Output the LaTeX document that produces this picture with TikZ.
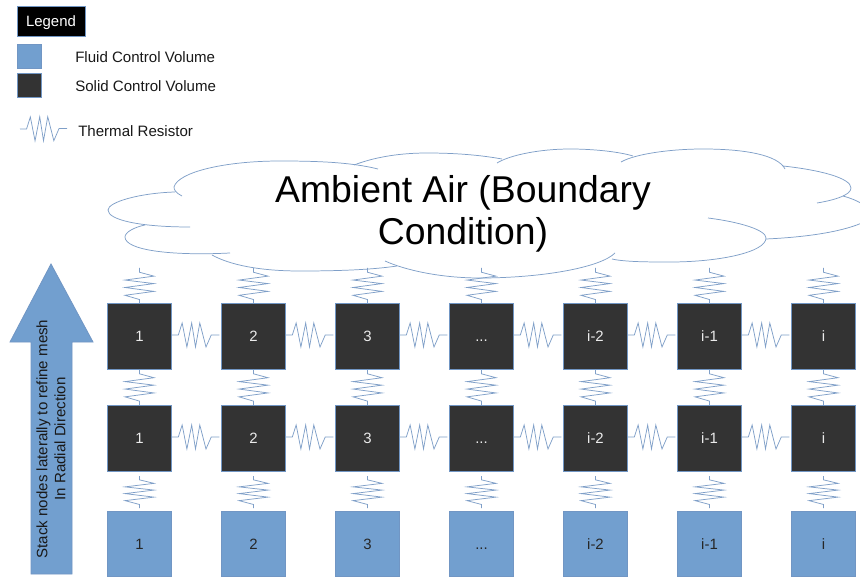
\documentclass[tikz,border=0pt]{standalone}
\usepackage{fontspec}
\setmainfont{Liberation Sans}
\usetikzlibrary{calc}
\definecolor{fluidc}{HTML}{729FCF}
\definecolor{solidc}{HTML}{333333}
\definecolor{edgec}{HTML}{7196C4}
\definecolor{resc}{HTML}{7F9FC8}
\newcommand{\threedots}{...}
\tikzset{
 res/.style={draw=resc,line width=0.55pt,line join=miter},
 cloudline/.style={draw=resc,line width=0.55pt},
 cell/.style={minimum width=47.6pt,minimum height=49pt,inner sep=0pt,draw=edgec,line width=0.6pt,text height=8pt,text depth=0pt,font=\fontsize{11.2}{13}\selectfont},
 solidcell/.style={cell,fill=solidc,text=white!92!black},
 fluidcell/.style={cell,fill=fluidc,text=black!85},
 swatch/.style={minimum width=18pt,minimum height=17.4pt,inner sep=0pt,draw=edgec,line width=0.6pt},
 lab/.style={anchor=west,inner sep=0pt,font=\fontsize{11.3}{13}\selectfont,text=black!90},
}
\newcommand{\vres}[2]{\draw[res] (#1) -- ($(#1)!.12!(#2)$) -- ($(#1)!.23!(#2)+(14.5,0)$) -- ($(#1)!.34!(#2)+(-14.5,0)$) -- ($(#1)!.44!(#2)+(14.5,0)$) -- ($(#1)!.55!(#2)+(-14.5,0)$) -- ($(#1)!.66!(#2)+(14.5,0)$) -- ($(#1)!.77!(#2)+(-14.5,0)$) -- ($(#1)!.89!(#2)$) -- (#2);}
\newcommand{\hres}[3][12]{\draw[res] (#2) -- ($(#2)!.14!(#3)$) -- ($(#2)!.22!(#3)+(0,-#1)$) -- ($(#2)!.32!(#3)+(0,#1)$) -- ($(#2)!.42!(#3)+(0,-#1)$) -- ($(#2)!.50!(#3)+(0,#1)$) -- ($(#2)!.59!(#3)+(0,-#1)$) -- ($(#2)!.72!(#3)+(0,#1)$) -- ($(#2)!.83!(#3)$) -- (#3);}
\begin{document}
\begin{tikzpicture}[x=0.75pt,y=-0.75pt]
\clip (0,0) rectangle (860,577);
\fill[white] (0,0) rectangle (860,577);
% legend
\node[draw=edgec,fill=black,text=white,minimum width=51pt,minimum height=22.5pt,inner sep=0pt,text depth=0pt,font=\fontsize{11.2}{13}\selectfont] (legend) at (51,21) {Legend};
\node[swatch,fill=fluidc] (lf) at (29,56.5) {};
\node[swatch,fill=solidc] (ls) at (29,85.5) {};
\node[lab] (lft) at (75,57.5) {Fluid Control Volume};
\node[lab] (lst) at (75,86.5) {Solid Control Volume};
\node[lab] (lrt) at (78,131.5) {Thermal Resistor};
\coordinate (lra) at (20,129);
\coordinate (lrb) at (67,128.5);
\hres{lra}{lrb}
% cloud
\draw[cloudline] (182,196) .. controls (176,193) and (174,190) .. (174,187) .. controls (178,172) and (225,161) .. (280,161) .. controls (315,161) and (350,162) .. (378,169);
\draw[cloudline] (354,165) .. controls (375,157) and (400,153) .. (427,153) .. controls (455,153) and (480,155) .. (502,159);
\draw[cloudline] (497,163) .. controls (510,155) and (540,149) .. (570,149) .. controls (595,149) and (620,152) .. (633,156);
\draw[cloudline] (621,162) .. controls (635,154) and (670,149) .. (703,149) .. controls (745,149) and (778,155) .. (785,169);
\draw[cloudline] (783,166) .. controls (820,170) and (851,178) .. (851,188) .. controls (851,195) and (835,200) .. (817,203);
\draw[cloudline] (843,196) .. controls (850,198) and (856,200) .. (864,205);
\draw[cloudline] (766,239) .. controls (810,237) and (845,231) .. (864,222);
\draw[cloudline] (708,218) .. controls (740,222) and (766,230) .. (766,238) .. controls (766,252) and (720,262) .. (670,262) .. controls (650,262) and (625,262) .. (612,259);
\draw[cloudline] (615,253) .. controls (600,268) and (540,278) .. (480,278) .. controls (440,278) and (405,270) .. (385,261);
\draw[cloudline] (397,266) .. controls (370,270) and (335,271) .. (300,271) .. controls (260,271) and (230,265) .. (212,255);
\draw[cloudline] (230,253) .. controls (170,256) and (125,250) .. (125,237) .. controls (125,232) and (135,227) .. (145,225);
\draw[cloudline] (190,227) .. controls (140,227) and (108,220) .. (108,210) .. controls (108,202) and (140,193) .. (175,192);
\node[align=center,inner sep=0pt,font=\fontsize{28}{31.5}\selectfont] (air) at (463,213.5) {Ambient Air (Boundary\\Condition)};
% arrow
\draw[draw=edgec,fill=fluidc,line width=0.6pt] (51,264) -- (93,342) -- (72,342) -- (72,574) -- (31,574) -- (31,342) -- (10,342) -- cycle;
\node[rotate=90,align=center,inner sep=0pt,font=\fontsize{11.3}{13.5}\selectfont,text=black!90] (stack) at (51,439) {Stack nodes laterally to refine mesh\\In Radial Direction};
% cells
\foreach \c/\x/\t in {1/139.5/1,2/253.5/2,3/367.5/3,4/481.5/\threedots,5/595.5/i-2,6/709.5/i-1,7/823.5/i}{
  \node[solidcell] (a\c) at (\x,336.5) {\t};
  \node[solidcell] (b\c) at (\x,438.5) {\t};
  \node[fluidcell] (f\c) at (\x,544) {\t};
  \coordinate (top\c) at (\x,268);
  \coordinate (ba\c) at (\x,405);
  \coordinate (fu\c) at (\x,508);
  \coordinate (bb\c) at (\x,476);
  \vres{top\c}{a\c.north}
  \vres{a\c.south}{ba\c}
  \vres{bb\c}{fu\c}
}
\foreach \c/\d in {1/2,2/3,3/4,4/5,5/6,6/7}{
  \coordinate (ae\c) at ($(a\c.east)+(0,-1.5)$);
  \coordinate (aw\d) at ($(a\d.west)+(-2,-1.5)$);
  \coordinate (be\c) at ($(b\c.east)+(0,-1.5)$);
  \coordinate (bw\d) at ($(b\d.west)+(-2,-1.5)$);
  \hres{ae\c}{aw\d}
  \hres{be\c}{bw\d}
}
\end{tikzpicture}
\end{document}
